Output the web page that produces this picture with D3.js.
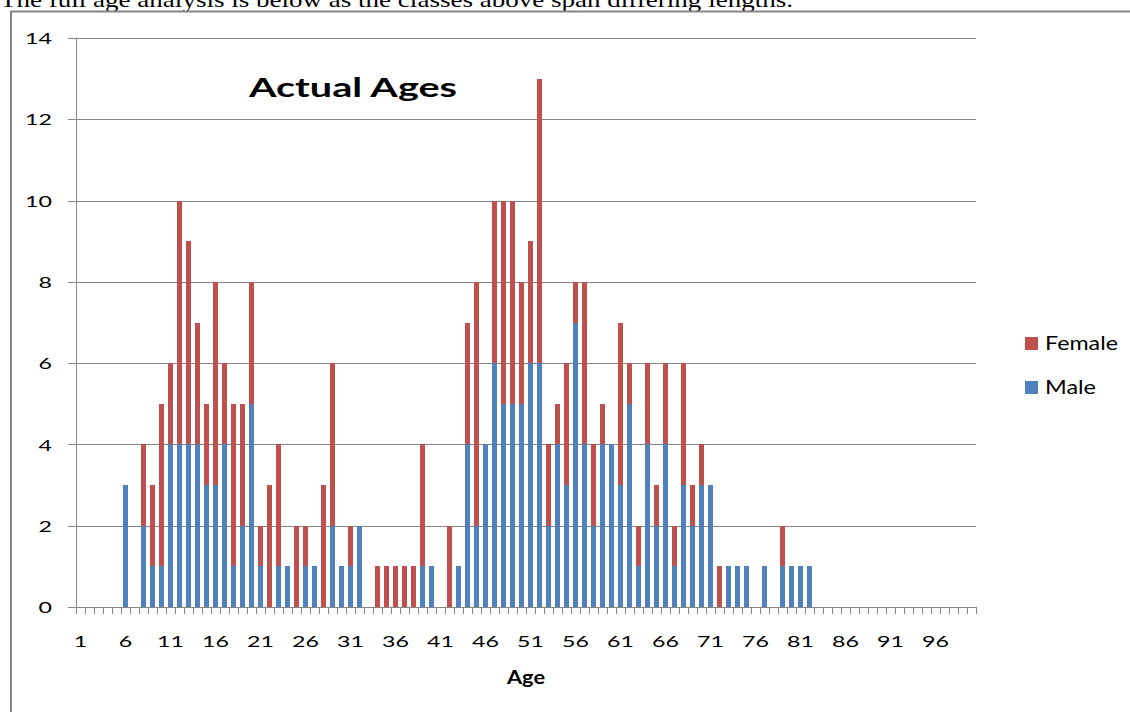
<!DOCTYPE html>
<html>
<head>
<meta charset="utf-8">
<script src="https://cdn.jsdelivr.net/npm/d3@7"></script>
<style>
  body { margin: 0; background: #fff; overflow: hidden; }
  svg { display: block; }
  .tick text { font-family: Lato, "Noto Sans", sans-serif; fill: #000; }
</style>
</head>
<body>
<div id="chart"></div>
<script>
// Actual ages, stacked male / female counts per age (1..100)
var ages = d3.range(1, 101)
var labelAges = [1, 6, 11, 16, 21, 26, 31, 36, 41, 46, 51, 56, 61, 66, 71, 76, 81, 86, 91, 96]
var yTicks = [0, 2, 4, 6, 8, 10, 12, 14]

var male = [
  0, 0, 0, 0, 0, 3, 0, 2, 1, 1,
  4, 4, 4, 4, 3, 3, 4, 1, 2, 5,
  1, 0, 1, 1, 0, 1, 1, 0, 2, 1,
  1, 2, 0, 0, 0, 0, 0, 0, 1, 1,
  0, 0, 1, 4, 2, 4, 6, 5, 5, 5,
  6, 6, 2, 4, 3, 7, 4, 2, 4, 4,
  3, 5, 1, 4, 2, 4, 1, 3, 2, 3,
  3, 0, 1, 1, 1, 0, 1, 0, 1, 1,
  1, 1, 0, 0, 0, 0, 0, 0, 0, 0,
  0, 0, 0, 0, 0, 0, 0, 0, 0, 0
]
var female = [
  0, 0, 0, 0, 0, 0, 0, 2, 2, 4,
  2, 6, 5, 3, 2, 5, 2, 4, 3, 3,
  1, 3, 3, 0, 2, 1, 0, 3, 4, 0,
  1, 0, 0, 1, 1, 1, 1, 1, 3, 0,
  0, 2, 0, 3, 6, 0, 4, 5, 5, 3,
  3, 7, 2, 1, 3, 1, 4, 2, 1, 0,
  4, 1, 1, 2, 1, 2, 1, 3, 1, 1,
  0, 1, 0, 0, 0, 0, 0, 0, 1, 0,
  0, 0, 0, 0, 0, 0, 0, 0, 0, 0,
  0, 0, 0, 0, 0, 0, 0, 0, 0, 0
]

var seriesKeys = ["male", "female"]
var seriesNames = {male: "Male", female: "Female"}
var colors = {male: "#4F81BD", female: "#C0504D"}
var gridColor = "#868686"
var sx = 1.45   // the picture is stretched sideways, so is its text

var width = 1130, height = 712
var plot = {left: 76, right: 976, top: 38, bottom: 607}

var svg = d3.select("#chart").append("svg")
  .attr("width", width)
  .attr("height", height)

// document text above the pasted chart
svg.append("text")
  .attr("x", 0)
  .attr("y", 7)
  .attr("textLength", 793)
  .attr("lengthAdjust", "spacingAndGlyphs")
  .style("font-family", "'Liberation Serif', 'Times New Roman', serif")
  .style("font-size", "22px")
  .text("The full age analysis is below as the classes above span differing lengths.")

// frame of the chart object
svg.append("path")
  .attr("d", "M11," + height + "V11.5H" + width)
  .attr("fill", "none")
  .attr("stroke", gridColor)
  .attr("stroke-width", 2)

var table = ages.map(function(a, i) {
  return {age: a, male: male[i], female: female[i]}
})

var x = d3.scaleBand()
  .domain(ages)
  .range([plot.left, plot.right])
  .paddingInner(0.55)
  .paddingOuter(0.275)

// boundaries between categories, for tick marks
var xEdge = d3.scaleLinear()
  .domain([0.5, ages.length + 0.5])
  .range([plot.left, plot.right])

var y = d3.scaleLinear()
  .domain([0, 14])
  .range([plot.bottom, plot.top])

// gridlines
var grid = svg.append("g")
  .attr("transform", "translate(" + plot.right + ",0)")
  .call(d3.axisLeft(y).tickValues(yTicks).tickSize(plot.right - plot.left + 8).tickFormat(""))
grid.select(".domain").remove()
grid.selectAll("line").attr("stroke", gridColor).attr("shape-rendering", "crispEdges")

// y labels
var yAxis = svg.append("g")
  .attr("transform", "translate(" + plot.left + ",0)")
  .call(d3.axisLeft(y).tickValues(yTicks).tickSize(0))
yAxis.select(".domain").remove()
yAxis.selectAll("text")
  .attr("x", 0)
  .attr("dy", "0.35em")
  .attr("transform", "translate(-24,0) scale(" + sx + ",1)")
  .style("font-size", "16px")

// y axis line
svg.append("line")
  .attr("x1", plot.left).attr("x2", plot.left)
  .attr("y1", y(14)).attr("y2", y(0))
  .attr("stroke", gridColor)
  .attr("shape-rendering", "crispEdges")

// bars
var stacked = d3.stack().keys(seriesKeys)(table)

svg.append("g").selectAll("g")
  .data(stacked)
  .enter().append("g")
    .attr("fill", function(d) { return colors[d.key] })
  .selectAll("rect")
  .data(function(d) { return d })
  .enter().append("rect")
    .attr("x", function(d) { return x(d.data.age) })
    .attr("width", x.bandwidth())
    .attr("y", function(d) { return y(d[1]) })
    .attr("height", function(d) { return y(d[0]) - y(d[1]) })
    .attr("shape-rendering", "crispEdges")

// x tick marks between categories
var xTicks = svg.append("g")
  .attr("transform", "translate(0," + plot.bottom + ")")
  .call(d3.axisBottom(xEdge)
    .tickValues(ages.map(function(a) { return a - 0.5 }).concat([ages.length + 0.5]))
    .tickSizeInner(7)
    .tickSizeOuter(0)
    .tickFormat(""))
xTicks.selectAll("line, path").attr("stroke", gridColor).attr("shape-rendering", "crispEdges")

// x labels, stretched around their own centre
var xLabels = svg.append("g")
  .attr("transform", "translate(0," + plot.bottom + ")")
  .call(d3.axisBottom(x).tickValues(labelAges).tickSize(0))
xLabels.select(".domain").remove()
xLabels.selectAll("text")
  .attr("x", 0)
  .attr("y", 40)
  .attr("dy", 0)
  .attr("transform", "scale(" + sx + ",1)")
  .style("font-size", "16px")

// title
svg.append("text")
  .attr("x", 249)
  .attr("y", 97)
  .attr("textLength", 208)
  .attr("lengthAdjust", "spacingAndGlyphs")
  .style("font-family", "Lato, 'Noto Sans', sans-serif")
  .style("font-weight", "bold")
  .style("font-size", "27px")
  .text("Actual Ages")

// x axis title
svg.append("text")
  .attr("x", (plot.left + plot.right) / 2)
  .attr("y", 684)
  .attr("text-anchor", "middle")
  .attr("textLength", 38)
  .attr("lengthAdjust", "spacingAndGlyphs")
  .style("font-family", "Lato, 'Noto Sans', sans-serif")
  .style("font-weight", "bold")
  .style("font-size", "18px")
  .text("Age")

// legend, female on top
var legendItems = ["female", "male"]
var legendWidths = {female: 73, male: 51}
var legend = svg.append("g").selectAll("g")
  .data(legendItems)
  .enter().append("g")
    .attr("transform", function(d, i) { return "translate(1025," + (337 + i * 44) + ")" })

legend.append("rect")
  .attr("width", 13)
  .attr("height", 13)
  .attr("fill", function(d) { return colors[d] })

legend.append("text")
  .attr("x", 20)
  .attr("y", 13)
  .attr("textLength", function(d) { return legendWidths[d] })
  .attr("lengthAdjust", "spacingAndGlyphs")
  .style("font-family", "Lato, 'Noto Sans', sans-serif")
  .style("font-size", "19px")
  .text(function(d) { return seriesNames[d] })
</script>
</body>
</html>
